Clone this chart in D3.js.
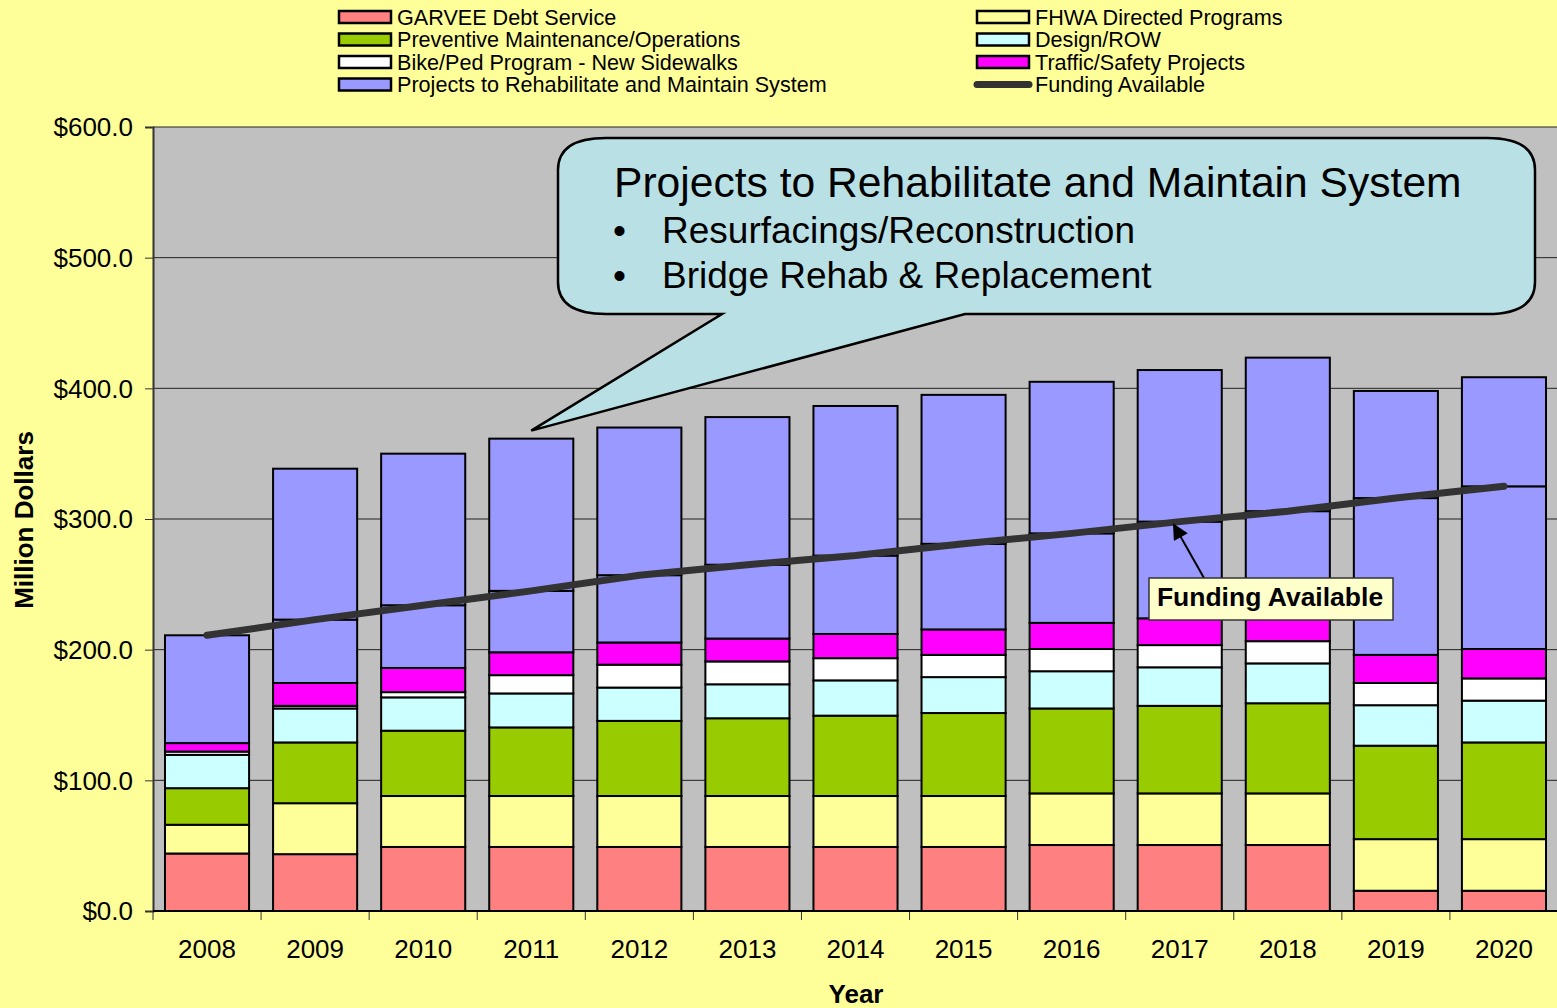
<!DOCTYPE html>
<html><head><meta charset="utf-8">
<script src="https://cdn.jsdelivr.net/npm/d3@7"></script>
<style>
html,body{margin:0;padding:0;background:#FFFF99;}
svg{display:block;font-family:"Liberation Sans",Arial,sans-serif;}
</style></head>
<body><svg id="c" width="1557" height="1008"></svg>
<script>
const years = ["2008","2009","2010","2011","2012","2013","2014","2015","2016","2017","2018","2019","2020"];
const garvee     = [44, 43.5, 49, 49, 49, 49, 49, 49, 50.5, 50.5, 50.5, 15.5, 15.5];
const fhwa       = [22, 39, 39, 39, 39, 39, 39, 39, 39.5, 39.5, 39.5, 39.5, 39.5];
const preventive = [28, 46.5, 50, 52.5, 57.5, 59.5, 61.5, 63.5, 65, 67, 69, 71.5, 74];
const designRow  = [25.5, 26, 25.5, 26, 25.5, 26, 27, 27.5, 28.5, 29.5, 30.5, 31, 32];
const bikePed    = [2.5, 2, 4, 14, 17.5, 17.5, 17, 17, 17, 17, 17, 17, 17];
const traffic    = [6.5, 17.5, 18.5, 17.5, 17, 17.5, 18.5, 19.5, 20, 20.5, 20.5, 21.5, 22.5];
const projects   = [82.5, 164, 164, 163.5, 164.5, 169.5, 174.5, 179.5, 184.5, 190, 196.5, 202, 208];
const funding    = [211, 223, 234, 245, 257, 265, 272, 281, 289, 298, 306, 316, 325];
const yTicks = [0, 100, 200, 300, 400, 500, 600];

const seriesNames = ["GARVEE Debt Service","FHWA Directed Programs","Preventive Maintenance/Operations","Design/ROW","Bike/Ped Program - New Sidewalks","Traffic/Safety Projects","Projects to Rehabilitate and Maintain System"];
const seriesVals = [garvee, fhwa, preventive, designRow, bikePed, traffic, projects];
const colors = ["#FF8080","#FFFF99","#99CC00","#CCFFFF","#FFFFFF","#FF00FF","#9999FF"];

const L = 153, R = 1557, T = 127, B = 911;
const svg = d3.select("#c");
const font = '"Liberation Sans",Arial,sans-serif';

const x = d3.scaleBand().domain(years).range([L, R + 1]).paddingInner(0.222).paddingOuter(0.111);
const y = d3.scaleLinear().domain([0, 600]).range([B, T]);

// plot background
svg.append("rect").attr("x", L).attr("y", T).attr("width", R - L).attr("height", B - T).attr("fill", "#C0C0C0");
// gridlines
svg.append("g").selectAll("line").data(yTicks.slice(1)).join("line")
  .attr("x1", L).attr("x2", R).attr("y1", d => y(d)).attr("y2", d => y(d))
  .attr("stroke", "#222").attr("stroke-width", 1);

// stacked data
const table = years.map((yr, i) => {
  const o = {year: yr};
  seriesNames.forEach((s, k) => o[s] = seriesVals[k][i]);
  return o;
});
const stack = d3.stack().keys(seriesNames)(table);

const g = svg.append("g");
stack.forEach((layer, k) => {
  const isProj = k === seriesNames.length - 1;
  if (!isProj) {
    g.append("g").selectAll("rect").data(layer).join("rect")
      .attr("x", d => x(d.data.year)).attr("width", x.bandwidth())
      .attr("y", d => y(d[1])).attr("height", d => Math.max(0, y(d[0]) - y(d[1])))
      .attr("fill", colors[k]).attr("stroke", "#000").attr("stroke-width", 2);
  } else {
    // split the rehab/maintain segment at the funding level
    const parts = [];
    layer.forEach((d, i) => {
      const f = Math.min(Math.max(funding[i], d[0]), d[1]);
      parts.push({year: d.data.year, lo: d[0], hi: f});
      if (d[1] - f > 0.5) parts.push({year: d.data.year, lo: f, hi: d[1]});
    });
    g.append("g").selectAll("rect").data(parts).join("rect")
      .attr("x", d => x(d.year)).attr("width", x.bandwidth())
      .attr("y", d => y(d.hi)).attr("height", d => Math.max(0, y(d.lo) - y(d.hi)))
      .attr("fill", colors[k]).attr("stroke", "#000").attr("stroke-width", 2);
  }
});

// axes
const yAxis = d3.axisLeft(y).tickValues(yTicks).tickSize(8).tickPadding(12).tickFormat(d => "$" + d3.format(".1f")(d));
const ya = svg.append("g").attr("transform", `translate(${L},0)`).call(yAxis);
ya.select(".domain").attr("stroke", "#333").attr("stroke-width", 2);
ya.selectAll(".tick line").attr("stroke", "#333");
ya.selectAll("text").attr("font-size", 26).attr("font-family", font).attr("fill", "#000").attr("dy", "0.34em");

const xa = svg.append("g").attr("transform", `translate(0,${B})`)
  .call(d3.axisBottom(x).tickSize(0).tickPadding(29));
xa.select(".domain").remove();
xa.selectAll("text").attr("font-size", 26).attr("font-family", font).attr("fill", "#000");
// category boundary ticks
const bounds = years.map(yv => x(yv) - x.step() * x.paddingInner() / 2);
svg.append("g").selectAll("line").data(bounds).join("line")
  .attr("x1", d => d).attr("x2", d => d).attr("y1", B).attr("y2", B + 9)
  .attr("stroke", "#333").attr("stroke-width", 1);
svg.append("line").attr("x1", L).attr("x2", R).attr("y1", B).attr("y2", B).attr("stroke", "#000").attr("stroke-width", 2);

// funding line
const line = d3.line().x((d, i) => x(years[i]) + x.bandwidth() / 2).y(d => y(d));
svg.append("path").datum(funding).attr("d", line)
  .attr("fill", "none").attr("stroke", "#333333").attr("stroke-width", 7).attr("stroke-linecap", "round");

// axis titles
svg.append("text").attr("transform", `translate(33,${(T + B) / 2 + 1}) rotate(-90)`)
  .attr("text-anchor", "middle").attr("font-size", 26).attr("font-weight", "bold").attr("font-family", font).text("Million Dollars");
svg.append("text").attr("x", 856).attr("y", 1003)
  .attr("text-anchor", "middle").attr("font-size", 26).attr("font-weight", "bold").attr("font-family", font).text("Year");

// legend
const legendItems = [
  {name: seriesNames[0], c: colors[0], col: 0, row: 0},
  {name: seriesNames[2], c: colors[2], col: 0, row: 1},
  {name: seriesNames[4], c: colors[4], col: 0, row: 2},
  {name: seriesNames[6], c: colors[6], col: 0, row: 3},
  {name: seriesNames[1], c: colors[1], col: 1, row: 0},
  {name: seriesNames[3], c: colors[3], col: 1, row: 1},
  {name: seriesNames[5], c: colors[5], col: 1, row: 2},
  {name: "Funding Available", c: null, col: 1, row: 3}
];
const colX = [339, 977];
const lg = svg.append("g");
legendItems.forEach(it => {
  const cy = 17 + it.row * 22.5;
  const sx = colX[it.col];
  if (it.c) {
    lg.append("rect").attr("x", sx).attr("y", cy - 6).attr("width", 52).attr("height", 12)
      .attr("fill", it.c).attr("stroke", "#000").attr("stroke-width", 2.5);
  } else {
    lg.append("line").attr("x1", sx).attr("x2", sx + 52).attr("y1", cy).attr("y2", cy)
      .attr("stroke", "#333").attr("stroke-width", 7).attr("stroke-linecap", "round");
  }
  lg.append("text").attr("x", sx + 58).attr("y", cy + 7.5).attr("font-size", 21.6).attr("font-family", font).text(it.name);
});

// callout
const tipX = x("2011") + x.bandwidth() / 2;
const tipY = y(d3.sum(seriesVals, s => s[3])) - 8;
const bx0 = 558, bx1 = 1535, by0 = 138, by1 = 314, rx = 48, ry = 32;
const tb0 = 722, tb1 = 965;
const cp = d3.path();
cp.moveTo(bx0 + rx, by0);
cp.lineTo(bx1 - rx, by0);
cp.quadraticCurveTo(bx1, by0, bx1, by0 + ry);
cp.lineTo(bx1, by1 - ry);
cp.quadraticCurveTo(bx1, by1, bx1 - rx, by1);
cp.lineTo(tb1, by1);
cp.lineTo(tipX, tipY);
cp.lineTo(tb0, by1);
cp.lineTo(bx0 + rx, by1);
cp.quadraticCurveTo(bx0, by1, bx0, by1 - ry);
cp.lineTo(bx0, by0 + ry);
cp.quadraticCurveTo(bx0, by0, bx0 + rx, by0);
cp.closePath();
svg.append("path").attr("d", cp.toString()).attr("fill", "#B9E0E4").attr("stroke", "#000").attr("stroke-width", 2.5);
svg.append("text").attr("x", 614).attr("y", 197).attr("font-size", 42.6).attr("font-family", font).text("Projects to Rehabilitate and Maintain System");
["Resurfacings/Reconstruction", "Bridge Rehab & Replacement"].forEach((t, i) => {
  svg.append("text").attr("x", 613).attr("y", 243 + i * 45).attr("font-size", 37).attr("font-family", font).text("•");
  svg.append("text").attr("x", 662).attr("y", 243 + i * 45).attr("font-size", 37).attr("font-family", font).text(t);
});

// Funding Available label with arrow
const defs = svg.append("defs");
defs.append("marker").attr("id", "ah").attr("viewBox", "0 0 10 10").attr("refX", 9).attr("refY", 5)
  .attr("markerWidth", 9).attr("markerHeight", 8).attr("markerUnits", "strokeWidth").attr("orient", "auto")
  .append("path").attr("d", "M0,0 L10,5 L0,10 Z").attr("fill", "#000");
const ax = x("2017") + x.bandwidth() / 2 - 6, ay = y(funding[9]) + 3;
svg.append("line").attr("x1", 1204).attr("y1", 578).attr("x2", ax).attr("y2", ay)
  .attr("stroke", "#000").attr("stroke-width", 2).attr("marker-end", "url(#ah)");
svg.append("rect").attr("x", 1149).attr("y", 578).attr("width", 244).attr("height", 42)
  .attr("fill", "#FFFFCC").attr("stroke", "#333").attr("stroke-width", 1.5);
svg.append("text").attr("x", 1270).attr("y", 606).attr("text-anchor", "middle")
  .attr("font-size", 26.5).attr("font-weight", "bold").attr("font-family", font).text("Funding Available");
</script></body></html>
